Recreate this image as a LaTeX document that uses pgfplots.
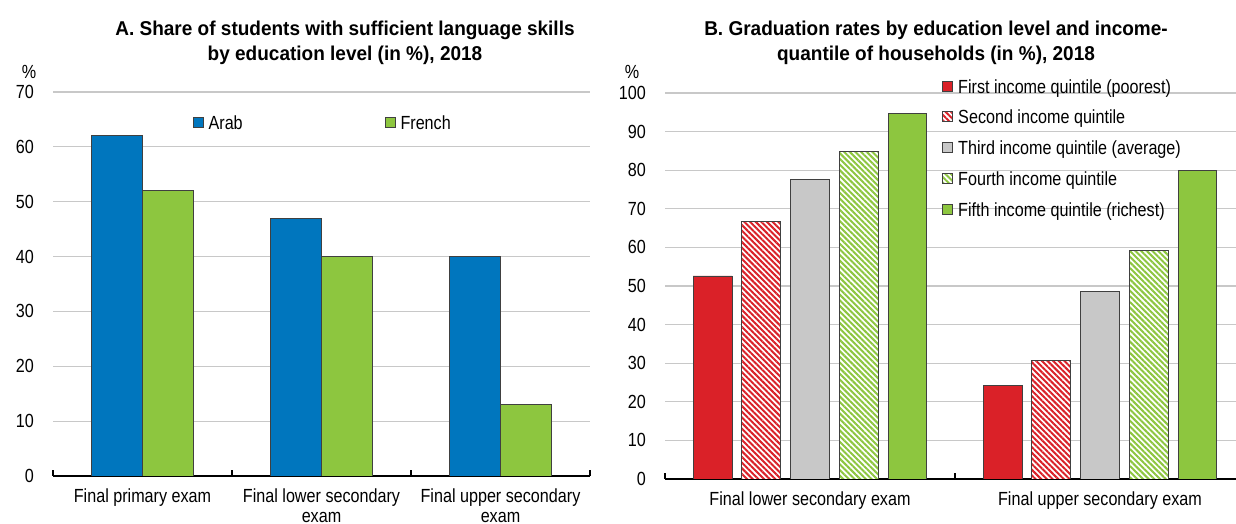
\documentclass[border=0pt]{standalone}
\usepackage{fontspec}
\setmainfont[FakeStretch=0.85]{Liberation Sans}
\newfontfamily\titlefont[FakeStretch=0.95]{Liberation Sans}
\usepackage{pgfplots}
\pgfplotsset{compat=1.18}
\usetikzlibrary{patterns.meta}
\definecolor{oblue}{RGB}{0,118,190}
\definecolor{ogreen}{RGB}{141,198,63}
\definecolor{ored}{RGB}{218,33,40}
\definecolor{ogrey}{RGB}{200,200,200}
\definecolor{gridgrey}{RGB}{200,200,200}
\newcommand{\ff}{\fontsize{19bp}{20bp}\selectfont}
\pgfplotsset{
  oecd/.style={
    ybar,
    scale only axis,
    anchor=south west,
    ymin=0,
    axis x line*=bottom,
    axis y line*=left,
    x axis line style={-, line width=1.5bp, black},
    y axis line style={draw=none},
    ytick style={draw=none},
    xtick style={draw=none},
    ymajorgrids,
    grid style={color=gridgrey, line width=1.2bp},
    tick label style={font=\ff},
    /pgf/number format/assume math mode=true,
    yticklabel style={anchor=east, inner sep=0pt, xshift=-19bp},
    xticklabel style={align=center, anchor=north, inner sep=0pt, yshift=-8bp},
    extra x tick labels={},
    extra x tick style={xtick style={draw=black, line width=1.2bp}, tick align=inside, major tick length=6bp},
    legend style={font=\ff, draw=none, fill=none, inner sep=0pt},
  }
}
\begin{document}
\begin{tikzpicture}[x=1bp,y=1bp]
\path[use as bounding box] (0,0) rectangle (1236,524);
% Panel A
\begin{axis}[oecd, at={(53bp,48bp)}, width=537bp, height=384bp,
  ymax=70, ytick={0,10,...,70},
  xmin=-0.5, xmax=2.5,
  xtick={0,1,2},
  xticklabels={Final primary exam, Final lower secondary\\exam, Final upper secondary\\exam},
  extra x ticks={-0.5,0.5,1.5,2.5},
  bar width=0.285,
  legend image code/.code={\draw[#1] (0bp,-4bp) rectangle (10bp,6bp); \path (13bp,0bp);},
  legend columns=2,
  legend style={at={(0.26,0.917)}, anchor=west, /tikz/every even column/.append style={column sep=140bp}},
]
\addplot[fill=oblue, draw=black!75, line width=0.8bp, bar shift=-0.1425] coordinates {(0,62) (1,47) (2,40)};
\addplot[fill=ogreen, draw=black!75, line width=0.8bp, bar shift=0.1425] coordinates {(0,52) (1,40) (2,13)};
\legend{Arab, French}
\end{axis}
% Panel B
\begin{axis}[oecd, at={(665bp,45bp)}, width=580bp, height=386bp,
  ymax=100, ytick={0,10,...,100},
  xmin=-0.5, xmax=1.5,
  xtick={0,1},
  xticklabels={Final lower secondary exam, Final upper secondary exam},
  extra x ticks={-0.5,0.5,1.5},
  bar width=0.134,
  legend image code/.code={\draw[#1] (0bp,-4bp) rectangle (10bp,6bp); \path (13bp,0bp);},
  legend cell align=left,
  legend style={at={(0.478,1.041)}, anchor=north west, row sep=11.5bp},
]
\addplot[fill=ored, draw=black!75, line width=0.8bp, bar shift=-0.336] coordinates {(0,52.6) (1,24.2)};
\addplot[fill=white, draw=black!75, line width=0.8bp, bar shift=-0.168,
  postaction={pattern={Lines[angle=-45,distance=4bp,line width=2bp]}, pattern color=ored}] coordinates {(0,66.7) (1,30.6)};
\addplot[fill=ogrey, draw=black!75, line width=0.8bp, bar shift=0] coordinates {(0,77.6) (1,48.5)};
\addplot[fill=white, draw=black!75, line width=0.8bp, bar shift=0.168,
  postaction={pattern={Lines[angle=-45,distance=4bp,line width=2bp]}, pattern color=ogreen}] coordinates {(0,84.8) (1,59.1)};
\addplot[fill=ogreen, draw=black!75, line width=0.8bp, bar shift=0.336] coordinates {(0,94.8) (1,79.9)};
\legend{First income quintile (poorest), Second income quintile, Third income quintile (average), Fourth income quintile, Fifth income quintile (richest)}
\end{axis}
% Titles and unit labels
\node[font=\fontsize{20bp}{25bp}\titlefont\bfseries, align=center] at (345,481.5) {A. Share of students with sufficient language skills\\by education level (in \%), 2018};
\node[font=\fontsize{20bp}{25bp}\titlefont\bfseries, align=center] at (936,481.5) {B. Graduation rates by education level and income-\\quantile of households (in \%), 2018};
\node[font=\ff] at (29,452) {\%};
\node[font=\ff] at (632,452) {\%};
\end{tikzpicture}
\end{document}
